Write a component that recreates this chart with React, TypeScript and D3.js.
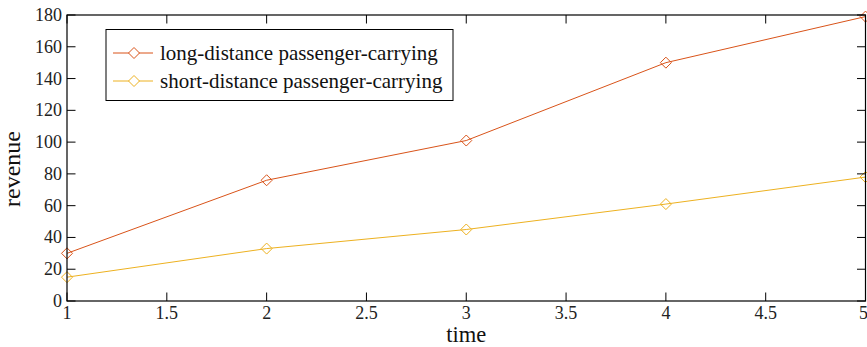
import React from 'react';
import * as d3 from 'd3';

const times = [1, 2, 3, 4, 5];
const longDistance = [30, 76, 101, 150, 179];
const shortDistance = [15, 33, 45, 61, 78];
const xTicks = [1, 1.5, 2, 2.5, 3, 3.5, 4, 4.5, 5];
const yTicks = [0, 20, 40, 60, 80, 100, 120, 140, 160, 180];
const seriesNames = ['long-distance passenger-carrying', 'short-distance passenger-carrying'];
const seriesColors = ['#D95319', '#EDB120'];

const W = 867;
const H = 347;
const margin = { top: 15, right: 1.5, bottom: 46, left: 67 };
const font = '"Liberation Serif", "Times New Roman", serif';

const diamond = (cx: number, cy: number, r: number) =>
  `M${cx},${cy - r}L${cx + r},${cy}L${cx},${cy + r}L${cx - r},${cy}Z`;

const App = () => {
  const x = d3.scaleLinear().domain([1, 5]).range([margin.left, W - margin.right]);
  const y = d3.scaleLinear().domain([0, 180]).range([H - margin.bottom, margin.top]);
  const line = d3.line<number>()
    .x((_, i) => x(times[i]))
    .y(d => y(d));

  const series = [longDistance, shortDistance];
  const x0 = x(1), x1 = x(5), y0 = y(0), y1 = y(180);
  const tick = 8.5;

  return (
    <svg width={W} height={H} style={{ position: 'absolute', left: 0, top: 0 }} fontFamily={font}>
      <rect x={0} y={0} width={W} height={H} fill="#fff" />
      {series.map((s, k) => (
        <g key={k}>
          <path d={line(s) || ''} fill="none" stroke={seriesColors[k]} strokeWidth={1} />
          {s.map((v, i) => (
            <path key={i} d={diamond(x(times[i]), y(v), 5.5)} fill="none" stroke={seriesColors[k]} strokeWidth={1} />
          ))}
        </g>
      ))}
      {/* axes box */}
      <rect x={x0} y={y1} width={x1 - x0} height={y0 - y1} fill="none" stroke="#000" strokeWidth={1.2} />
      {xTicks.map(t => (
        <g key={t}>
          <line x1={x(t)} x2={x(t)} y1={y0} y2={y0 - tick} stroke="#000" />
          <line x1={x(t)} x2={x(t)} y1={y1} y2={y1 + tick} stroke="#000" />
          <text x={t === 5 ? x(t) - 2 : x(t)} y={319} textAnchor="middle" fontSize={18} fill="#222">{t}</text>
        </g>
      ))}
      {yTicks.map(t => (
        <g key={t}>
          <line x1={x0} x2={x0 + tick} y1={y(t)} y2={y(t)} stroke="#000" />
          <line x1={x1} x2={x1 - tick} y1={y(t)} y2={y(t)} stroke="#000" />
          <text x={62} y={y(t) + 6} textAnchor="end" fontSize={18} fill="#222">{t}</text>
        </g>
      ))}
      <text x={(x0 + x1) / 2} y={342} textAnchor="middle" fontSize={22.5} fill="#111">time</text>
      <text transform="translate(20,169) rotate(-90)" textAnchor="middle" fontSize={24} fill="#111">revenue</text>
      {/* legend */}
      <rect x={106} y={29.5} width={347} height={71} fill="#fff" stroke="#000" strokeWidth={1} />
      {seriesNames.map((n, k) => {
        const ly = 53 + k * 28;
        return (
          <g key={n}>
            <line x1={113} x2={153} y1={ly} y2={ly} stroke={seriesColors[k]} />
            <path d={diamond(134, ly, 5.5)} fill="#fff" stroke={seriesColors[k]} />
            <text x={160} y={ly + 7} fontSize={21} fill="#111">{n}</text>
          </g>
        );
      })}
    </svg>
  );
};

export default App;
